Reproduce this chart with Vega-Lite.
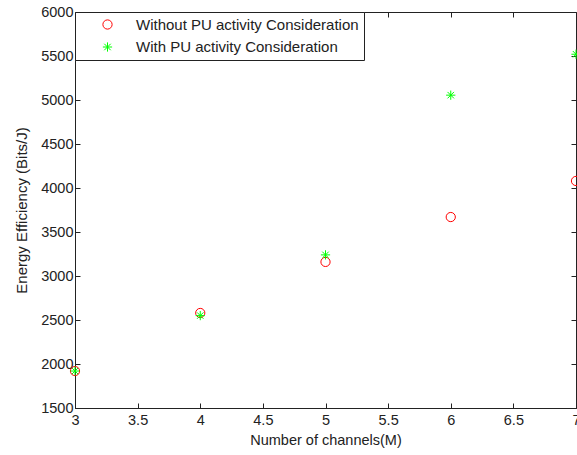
{
  "$schema": "https://vega.github.io/schema/vega-lite/v6.json",
  "width": 501,
  "height": 396,
  "autosize": {"type": "none"},
  "padding": {"left": 75, "top": 12, "right": 1, "bottom": 47},
  "background": "white",
  "data": {
    "values": [
      {"M": 3, "EE": 1920, "series": "Without PU activity Consideration"},
      {"M": 4, "EE": 2580, "series": "Without PU activity Consideration"},
      {"M": 5, "EE": 3160, "series": "Without PU activity Consideration"},
      {"M": 6, "EE": 3670, "series": "Without PU activity Consideration"},
      {"M": 7, "EE": 4080, "series": "Without PU activity Consideration"},
      {"M": 3, "EE": 1920, "series": "With PU activity Consideration"},
      {"M": 4, "EE": 2550, "series": "With PU activity Consideration"},
      {"M": 5, "EE": 3240, "series": "With PU activity Consideration"},
      {"M": 6, "EE": 5055, "series": "With PU activity Consideration"},
      {"M": 7, "EE": 5520, "series": "With PU activity Consideration"}
    ]
  },
  "layer": [
    {
      "mark": {"type": "point", "filled": false, "strokeWidth": 1, "size": 85, "opacity": 1},
      "encoding": {
        "x": {
          "field": "M", "type": "quantitative",
          "scale": {"domain": [3, 7], "nice": false, "zero": false},
          "axis": {
            "orient": "bottom",
            "values": [3, 3.5, 4, 4.5, 5, 5.5, 6, 6.5, 7],
            "format": "~g",
            "title": "Number of channels(M)",
            "grid": false,
            "tickSize": -5,
            "labelPadding": 10,
            "titlePadding": 7,
            "labelFlush": false,
            "labelOverlap": false
          }
        },
        "y": {
          "field": "EE", "type": "quantitative",
          "scale": {"domain": [1500, 6000], "nice": false, "zero": false},
          "axis": {
            "orient": "left",
            "values": [1500, 2000, 2500, 3000, 3500, 4000, 4500, 5000, 5500, 6000],
            "format": "d",
            "title": "Energy Efficiency (Bits/J)",
            "titleFontSize": 15,
            "grid": false,
            "tickSize": -5,
            "labelPadding": 7,
            "titlePadding": 11,
            "labelFlush": false,
            "labelOverlap": false
          }
        },
        "color": {
          "field": "series", "type": "nominal",
          "scale": {
            "domain": ["Without PU activity Consideration", "With PU activity Consideration"],
            "range": ["#ff0000", "#00ff00"]
          },
          "legend": {"title": null, "orient": "top-left"}
        },
        "shape": {
          "field": "series", "type": "nominal",
          "scale": {
            "domain": ["Without PU activity Consideration", "With PU activity Consideration"],
            "range": ["circle", "M-1,0L1,0M0,-1L0,1M-0.7,-0.7L0.7,0.7M-0.7,0.7L0.7,-0.7"]
          },
          "legend": {"title": null, "orient": "top-left"}
        }
      }
    },
    {
      "mark": {"type": "point", "opacity": 0},
      "encoding": {
        "x": {
          "field": "M", "type": "quantitative",
          "axis": {
            "orient": "top",
            "values": [3, 3.5, 4, 4.5, 5, 5.5, 6, 6.5, 7],
            "labels": false, "title": null, "domain": false, "grid": false, "tickSize": -5
          }
        },
        "y": {
          "field": "EE", "type": "quantitative",
          "axis": {
            "orient": "right",
            "values": [1500, 2000, 2500, 3000, 3500, 4000, 4500, 5000, 5500, 6000],
            "labels": false, "title": null, "domain": false, "grid": false, "tickSize": -5
          }
        }
      }
    }
  ],
  "resolve": {"axis": {"x": "independent", "y": "independent"}},
  "config": {
    "font": "Liberation Sans",
    "view": {"stroke": "#222", "strokeWidth": 1},
    "axis": {
      "domainColor": "#222",
      "tickColor": "#222",
      "labelColor": "#222",
      "titleColor": "#222",
      "labelFont": "Liberation Sans",
      "titleFont": "Liberation Sans",
      "labelFontSize": 14.5,
      "titleFontSize": 14.5,
      "titleFontWeight": "normal"
    },
    "legend": {
      "offset": 0,
      "strokeColor": "#222",
      "fillColor": "white",
      "padding": 5,
      "symbolOffset": 20,
      "labelOffset": 21,
      "rowPadding": 6.5,
      "labelFontSize": 15,
      "labelColor": "#222",
      "labelFont": "Liberation Sans",
      "labelLimit": 400,
      "symbolStrokeWidth": 1,
      "symbolSize": 85
    }
  }
}
